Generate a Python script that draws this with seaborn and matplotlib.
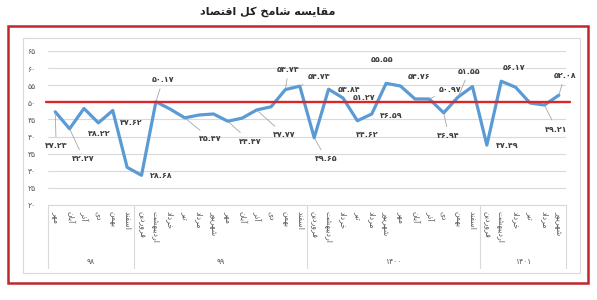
import matplotlib
matplotlib.use('Agg')
import matplotlib.pyplot as plt
import matplotlib.patches as mpatches
import matplotlib.transforms as mtransforms
import pandas as pd
import seaborn as sns

# data ###############################################################
title = 'مقایسه شامخ کل اقتصاد'
month_names = ['فروردین', 'اردیبهشت', 'خرداد', 'تیر', 'مرداد', 'شهریور',
               'مهر', 'آبان', 'آذر', 'دی', 'بهمن', 'اسفند']
years = ['۹۸', '۹۹', '۱۴۰۰', '۱۴۰۱']
months_per_year = [6, 12, 12, 6]
values = [47.23, 42.27, 48.22, 44.0, 47.62, 31.0,
          28.68, 50.17, 48.0, 45.47, 46.3, 46.6, 44.47, 45.4, 47.77, 48.7, 53.73, 54.73,
          39.65, 53.84, 51.27, 44.62, 46.59, 55.55, 54.76, 51.0, 50.97, 46.94, 51.55, 54.6,
          37.49, 56.17, 54.4, 49.8, 49.21, 52.08]
labeled_points = [0, 1, 2, 4, 6, 7, 9, 12, 14, 16, 17, 18, 19, 20, 21, 22, 23, 24,
                  26, 27, 28, 30, 31, 34, 35]
yticks = [20, 25, 30, 35, 40, 45, 50, 55, 60, 65]
threshold = 50
# ####################################################################

# label placement (pixels, up positive) and whether a leader line is drawn
label_offsets = {
    0: (1, -34, True), 1: (14, -30, True), 2: (15, -25, False), 4: (19, -12, False),
    6: (20, 0, False), 7: (7, 22, True), 9: (26, -21, True), 12: (22, -20, True),
    14: (28, -25, True), 16: (3, 20, True), 17: (19, 10, True), 18: (12, -21, True),
    19: (20, 0, False), 20: (21, 0, False), 21: (10, -14, False), 22: (20, -1, False),
    23: (-4, 24, False), 24: (19, 10, False), 26: (21, 10, True), 27: (5, -23, True),
    28: (11, 26, True), 30: (20, 0, False), 31: (13, 14, False), 34: (12, -24, True),
    35: (6, 20, True),
}

# minimal Persian shaping (matplotlib has no bidi / joining support)
RIGHT_JOIN = {'ا': 0xFE8D, 'آ': 0xFE81, 'د': 0xFEA9, 'ذ': 0xFEAB, 'ر': 0xFEAD,
              'ز': 0xFEAF, 'ژ': 0xFB8A, 'و': 0xFEED}
DUAL_JOIN = {'ب': 0xFE8F, 'پ': 0xFB56, 'ت': 0xFE95, 'ث': 0xFE99, 'ج': 0xFE9D, 'چ': 0xFB7A,
             'ح': 0xFEA1, 'خ': 0xFEA5, 'س': 0xFEB1, 'ش': 0xFEB5, 'ص': 0xFEB9, 'ض': 0xFEBD,
             'ط': 0xFEC1, 'ظ': 0xFEC5, 'ع': 0xFEC9, 'غ': 0xFECD, 'ف': 0xFED1, 'ق': 0xFED5,
             'ک': 0xFB8E, 'گ': 0xFB92, 'ل': 0xFEDD, 'م': 0xFEE1, 'ن': 0xFEE5, 'ه': 0xFEE9,
             'ی': 0xFBFC}
LETTERS = {**RIGHT_JOIN, **DUAL_JOIN}


def fa(text):
    out = []
    for i, ch in enumerate(text):
        if ch not in LETTERS:
            out.append(ch)
            continue
        prev = text[i - 1] if i > 0 else ''
        nxt = text[i + 1] if i + 1 < len(text) else ''
        join_prev = prev in DUAL_JOIN
        join_next = ch in DUAL_JOIN and nxt in LETTERS
        base = LETTERS[ch]
        if join_prev and join_next:
            code = base + 3
        elif join_prev:
            code = base + 1
        elif join_next:
            code = base + 2
        else:
            code = base
        out.append(chr(code))
    return ''.join(reversed(out))


FA_DIGITS = str.maketrans('0123456789', '۰۱۲۳۴۵۶۷۸۹')


def fa_num(v, fmt='{:.2f}'):
    return fmt.format(v).translate(FA_DIGITS)


# build the table
months = []
year_of = []
start = 6
for year, n in zip(years, months_per_year):
    for k in range(n):
        months.append(month_names[(start + k) % 12])
        year_of.append(year)
    start = (start + n) % 12
df = pd.DataFrame({'idx': range(len(values)), 'value': values, 'month': months, 'year': year_of})

sns.set_style('white')
plt.rcParams['font.family'] = ['DejaVu Sans']

W, H = 597, 300
fig = plt.figure(figsize=(W / 100, H / 100), dpi=100)
ax = fig.add_axes([48 / W, 1 - 205 / H, (566 - 48) / W, (205 - 51) / H])

ax.set_axisbelow(True)
ax.grid(axis='y', color='#d9d9d9', linewidth=0.8)
ax.grid(axis='x', visible=False)

sns.lineplot(data=df, x='idx', y='value', color='#5b9bd5', linewidth=2.3, ax=ax)
ax.axhline(threshold, xmin=-0.004, xmax=1.007, color='#d9262b', linewidth=1.7, clip_on=False, zorder=3)

ax.set_xlim(-0.5, len(values) - 0.5)
ax.set_ylim(yticks[0], yticks[-1])
ax.set_yticks(yticks)
ax.set_yticklabels([fa_num(t, '{:d}') for t in yticks], fontsize=5.5, color='#595959')
ax.tick_params(axis='y', length=0, pad=9)
ax.set_xticks(df['idx'])
ax.set_xticklabels([fa(m) for m in df['month']], rotation=270, fontsize=5.6, color='#595959', va='top')
ax.tick_params(axis='x', length=0, pad=4)
ax.set_xlabel('')
ax.set_ylabel('')
for side in ['top', 'left', 'right']:
    ax.spines[side].set_visible(False)
ax.spines['bottom'].set_color('#d9d9d9')
ax.spines['bottom'].set_linewidth(0.8)

# year groups under the month labels
blend = mtransforms.blended_transform_factory(ax.transData, ax.transAxes)
edge = -0.5
for year, n in zip(years, months_per_year):
    ax.plot([edge, edge], [0, -0.41], transform=blend, color='#d9d9d9', lw=0.8, clip_on=False)
    ax.text(edge + n / 2, -0.365, year, transform=blend, ha='center', va='center', fontsize=5.5, color='#595959')
    edge += n
ax.plot([edge, edge], [0, -0.41], transform=blend, color='#d9d9d9', lw=0.8, clip_on=False)

# data labels
for i in labeled_points:
    dx, dy, leader = label_offsets[i]
    kw = {}
    if leader:
        kw['arrowprops'] = dict(arrowstyle='-', color='#a6a6a6', lw=0.6, shrinkA=1, shrinkB=1)
    ax.annotate(fa_num(values[i]), xy=(i, values[i]), xytext=(dx, dy), textcoords='offset pixels',
                ha='center', va='center', fontsize=5.8, fontweight='bold', color='#404040', **kw)

# frames and title
fig.patches.append(mpatches.Rectangle((23 / W, 1 - 273 / H), 557 / W, 235 / H, transform=fig.transFigure,
                                      fill=False, edgecolor='#d9d9d9', linewidth=0.8))
fig.patches.append(mpatches.Rectangle((8 / W, 1 - 283 / H), 580 / W, 257 / H, transform=fig.transFigure,
                                      fill=False, edgecolor='#c0272d', linewidth=1.8))
fig.text(268 / W, 1 - 12 / H, fa(title), ha='center', va='center', fontsize=8, fontweight='bold', color='#222222')

fig.savefig('out.png', dpi=100)
